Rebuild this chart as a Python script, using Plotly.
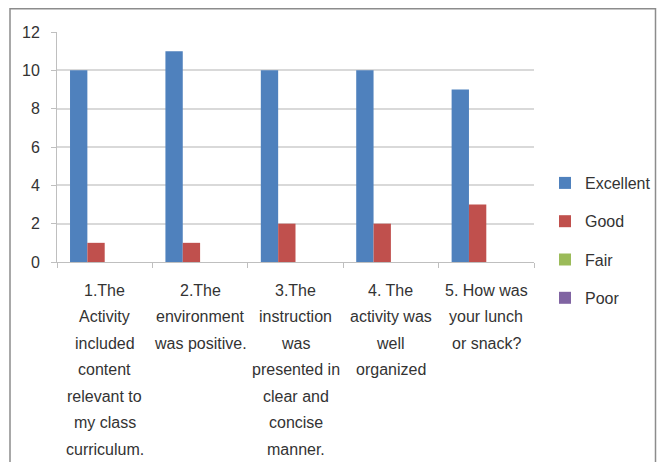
import plotly.graph_objects as go

categories = ["Q1", "Q2", "Q3", "Q4", "Q5"]
category_labels = [
    ["1.The", "Activity", "included", "content", "relevant to", "my class", "curriculum."],
    ["2.The", "environment", "was positive."],
    ["3.The", "instruction", "was", "presented in", "clear and", "concise", "manner."],
    ["4. The", "activity was", "well", "organized"],
    ["5. How was", "your lunch", "or snack?"],
]
series_names = ["Excellent", "Good", "Fair", "Poor"]
excellent = [10, 11, 10, 10, 9]
good = [1, 1, 2, 2, 3]
fair = [0, 0, 0, 0, 0]
poor = [0, 0, 0, 0, 0]
colors = ["#4F81BD", "#C0504D", "#9BBB59", "#8064A2"]

# page body has an 8px margin, so figure pixels = screen pixels - 8;
# keep the figure small enough that the page does not scroll
OFF = 8
W, H = 665 - 2 * OFF, 470 - 2 * OFF
ML, MR, MT, MB = 57 - OFF, W - (534 - OFF), 32 - OFF, H - (262 - OFF)
FONT = "Liberation Sans, Arial"
TXT = "#333333"

pw, ph = W - ML - MR, H - MT - MB
def px_x(p): return (p - OFF - ML) / pw
def px_y(p): return (H - MB - (p - OFF)) / ph

fig = go.Figure()
for i, (name, vals) in enumerate(zip(series_names, [excellent, good, fair, poor])):
    fig.add_trace(go.Bar(
        x=categories, y=vals, name=name,
        marker=dict(color=colors[i], line=dict(width=0)),
        legendgroup=name,
    ))

# multi-line category labels with wide line spacing, one annotation per line
for cat, lines in zip(categories, category_labels):
    for k, line in enumerate(lines):
        fig.add_annotation(
            x=cat, y=0, xref="x", yref="paper",
            text=line, showarrow=False,
            xanchor="center", yanchor="middle",
            yshift=-(28 + k * 26.5),
            font=dict(size=16, color=TXT, family=FONT),
        )

# outer chart border
fig.add_shape(type="rect", xref="paper", yref="paper",
              x0=px_x(10), x1=px_x(655.5), y0=px_y(480), y1=px_y(8.8),
              line=dict(color="#8c8c8c", width=1.5), fillcolor="rgba(0,0,0,0)")

fig.update_layout(
    width=W, height=H,
    margin=dict(l=ML, r=MR, t=MT, b=MB, autoexpand=False),
    paper_bgcolor="white", plot_bgcolor="white",
    barmode="group", bargap=0.273, bargroupgap=0,
    font=dict(family=FONT, size=16, color=TXT),
    legend=dict(
        x=px_x(545), xanchor="left", y=px_y(166), yanchor="top",
        font=dict(size=16, color=TXT, family=FONT),
        bgcolor="rgba(0,0,0,0)",
        tracegroupgap=14.5, itemwidth=30,
    ),
    xaxis=dict(
        showticklabels=False, ticks="outside", tickson="boundaries",
        ticklen=5, tickcolor="#bfbfbf", automargin=False,
        showline=True, linecolor="#bfbfbf", linewidth=1,
        showgrid=False,
    ),
    yaxis=dict(
        range=[0, 12], dtick=2, tick0=0, automargin=False,
        showgrid=True, gridcolor="#d9d9d9", gridwidth=1.5,
        showline=True, linecolor="#bfbfbf", linewidth=1,
        ticks="outside", ticklen=5, tickcolor="#bfbfbf",
        ticklabelstandoff=8, zeroline=False,
        tickfont=dict(size=16, color=TXT, family=FONT),
    ),
)

fig.write_html("out.html")
